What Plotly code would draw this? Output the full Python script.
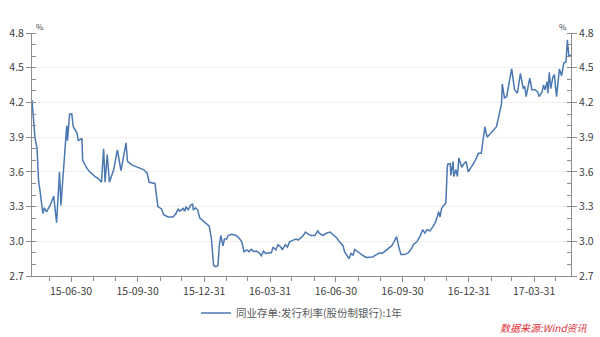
import plotly.graph_objects as go

dates = [
    "2015-05-07","2015-05-09","2015-05-11","2015-05-14","2015-05-16","2015-05-18","2015-05-21","2015-05-22",
    "2015-05-24","2015-05-27","2015-06-01","2015-06-06","2015-06-10","2015-06-14","2015-06-16","2015-06-19",
    "2015-06-24","2015-06-25","2015-06-28","2015-07-01","2015-07-03","2015-07-08","2015-07-10","2015-07-15",
    "2015-07-16","2015-07-22","2015-07-26","2015-08-02","2015-08-07","2015-08-11","2015-08-14","2015-08-16",
    "2015-08-19","2015-08-22","2015-08-28","2015-09-02","2015-09-07","2015-09-14","2015-09-16","2015-09-22",
    "2015-10-01","2015-10-08","2015-10-13","2015-10-16","2015-10-24","2015-10-26","2015-10-28","2015-11-02",
    "2015-11-05","2015-11-11","2015-11-18","2015-11-22","2015-11-25","2015-11-27","2015-12-02","2015-12-04",
    "2015-12-06","2015-12-09","2015-12-12","2015-12-15","2015-12-16","2015-12-19","2015-12-22","2015-12-25",
    "2016-01-01","2016-01-07","2016-01-10","2016-01-13","2016-01-16","2016-01-19","2016-01-21","2016-01-23",
    "2016-01-26","2016-01-28","2016-01-31","2016-02-02","2016-02-07","2016-02-13","2016-02-17","2016-02-21",
    "2016-02-24","2016-02-28","2016-03-02","2016-03-05","2016-03-09","2016-03-12","2016-03-16","2016-03-19",
    "2016-03-22","2016-03-25","2016-03-30","2016-04-02","2016-04-04","2016-04-08","2016-04-11","2016-04-15",
    "2016-04-17","2016-04-21","2016-04-24","2016-04-27","2016-05-02","2016-05-06","2016-05-09","2016-05-12",
    "2016-05-16","2016-05-19","2016-05-23","2016-05-27","2016-06-01","2016-06-05","2016-06-07","2016-06-12",
    "2016-06-17","2016-06-22","2016-06-26","2016-07-01","2016-07-05","2016-07-10","2016-07-12","2016-07-15",
    "2016-07-18","2016-07-21","2016-07-24","2016-07-26","2016-07-29","2016-08-02","2016-08-07","2016-08-11",
    "2016-08-16","2016-08-20","2016-08-25","2016-08-30","2016-09-02","2016-09-06","2016-09-10","2016-09-15",
    "2016-09-18","2016-09-22","2016-09-25","2016-09-28","2016-10-03","2016-10-08","2016-10-13","2016-10-15",
    "2016-10-20","2016-10-24","2016-10-28","2016-10-31","2016-11-03","2016-11-07","2016-11-11","2016-11-14",
    "2016-11-17","2016-11-19","2016-11-21","2016-11-23","2016-11-26","2016-11-29","2016-12-01","2016-12-02",
    "2016-12-05","2016-12-06","2016-12-09","2016-12-10","2016-12-13","2016-12-15","2016-12-17","2016-12-21",
    "2016-12-24","2016-12-27","2016-12-30","2017-01-03","2017-01-08","2017-01-13","2017-01-17","2017-01-22",
    "2017-01-25","2017-02-07","2017-02-14","2017-02-15","2017-02-18","2017-02-21","2017-02-28","2017-03-04",
    "2017-03-08","2017-03-12","2017-03-16","2017-03-18","2017-03-20","2017-03-25","2017-03-28","2017-04-01",
    "2017-04-05","2017-04-07","2017-04-11","2017-04-13","2017-04-15","2017-04-18","2017-04-19","2017-04-21",
    "2017-04-23","2017-04-26","2017-04-28","2017-05-01","2017-05-05","2017-05-08","2017-05-11","2017-05-14",
    "2017-05-16","2017-05-18","2017-05-21",
]

rates = [
    4.22,4.09,3.90,3.80,3.53,3.44,3.31,3.24,
    3.29,3.255,3.31,3.39,3.16,3.60,3.31,3.56,
    4.00,3.87,4.10,4.10,3.99,3.94,3.87,3.89,
    3.70,3.63,3.60,3.56,3.54,3.51,3.80,3.51,
    3.75,3.51,3.62,3.79,3.61,3.85,3.69,3.66,
    3.64,3.62,3.59,3.51,3.50,3.385,3.30,3.28,
    3.23,3.21,3.21,3.24,3.28,3.26,3.285,3.26,
    3.30,3.27,3.31,3.32,3.27,3.29,3.27,3.20,
    3.16,3.13,3.02,2.79,2.78,2.79,2.97,3.05,
    2.96,3.02,3.02,3.05,3.06,3.05,3.03,2.995,
    2.91,2.925,2.91,2.93,2.91,2.915,2.90,2.875,
    2.915,2.895,2.90,2.90,2.95,2.925,2.97,2.95,
    2.925,2.97,2.95,2.995,3.01,3.02,3.01,3.03,
    3.05,3.08,3.06,3.05,3.05,3.09,3.07,3.05,
    3.07,3.08,3.06,3.03,2.995,2.96,2.91,2.88,
    2.85,2.895,2.88,2.93,2.915,2.90,2.875,2.86,
    2.86,2.865,2.885,2.90,2.895,2.915,2.94,2.96,
    2.99,3.04,2.95,2.885,2.885,2.90,2.94,2.97,
    2.995,3.04,3.10,3.07,3.10,3.09,3.125,3.155,
    3.21,3.255,3.21,3.28,3.31,3.33,3.64,3.67,
    3.67,3.57,3.69,3.56,3.62,3.56,3.72,3.64,
    3.67,3.69,3.60,3.64,3.69,3.76,3.76,3.99,
    3.90,3.99,4.19,4.36,4.24,4.25,4.49,4.31,
    4.28,4.45,4.32,4.34,4.25,4.41,4.31,4.31,
    4.29,4.25,4.29,4.35,4.31,4.38,4.28,4.46,
    4.32,4.42,4.44,4.25,4.49,4.43,4.54,4.55,
    4.74,4.60,4.61,
]

series_name = "同业存单:发行利率(股份制银行):1年"
source_text = "数据来源:Wind资讯"

x_tick_vals = ["2015-06-30","2015-09-30","2015-12-31","2016-03-31","2016-06-30",
               "2016-09-30","2016-12-31","2017-03-31"]
x_tick_text = ["15-06-30","15-09-30","15-12-31","16-03-31","16-06-30",
               "16-09-30","16-12-31","17-03-31"]
x_minor_vals = ["2015-05-31","2015-07-31","2015-08-31","2015-10-31","2015-11-30",
                "2016-01-31","2016-02-29","2016-04-30","2016-05-31","2016-07-31",
                "2016-08-31","2016-10-31","2016-11-30","2017-01-31","2017-02-28",
                "2017-04-30"]
y_tick_vals = [2.7, 3.0, 3.3, 3.6, 3.9, 4.2, 4.5, 4.8]
y_tick_text = ["2.7", "3.0", "3.3", "3.6", "3.9", "4.2", "4.5", "4.8"]

FONT = "Noto Sans CJK SC, Microsoft YaHei, sans-serif"
AX = "#8c8c8c"
LINE = "#4a78b2"

fig = go.Figure()
fig.add_trace(go.Scatter(x=dates, y=rates, mode="lines", name=series_name,
                         line=dict(color=LINE, width=1.5), yaxis="y"))
fig.add_trace(go.Scatter(x=dates, y=rates, mode="lines", showlegend=False,
                         line=dict(color=LINE, width=1.5), opacity=0,
                         hoverinfo="skip", yaxis="y2"))

yax = dict(range=[2.7, 4.8], tickmode="array", tickvals=y_tick_vals, ticktext=y_tick_text,
           ticks="outside", ticklen=5, tickcolor=AX, showline=True, linecolor=AX, linewidth=1,
           showgrid=True, gridcolor="#f0f0f0", gridwidth=1, zeroline=False, automargin=False,
           tickfont=dict(family=FONT, size=10.5, color="#404040"),
           minor=dict(dtick=0.1, tick0=2.7, ticks="inside", ticklen=4, tickcolor=AX, showgrid=False))

fig.update_layout(
    width=600, height=337,
    margin=dict(l=32, r=29, t=33, b=61, autoexpand=False),
    paper_bgcolor="white", plot_bgcolor="white",
    font=dict(family=FONT, color="#404040"),
    xaxis=dict(type="date", range=["2015-05-07", "2017-05-21"],
               tickmode="array", tickvals=x_tick_vals, ticktext=x_tick_text,
               ticks="outside", ticklen=5, tickcolor=AX, showline=True, linecolor=AX,
               linewidth=1, showgrid=False, zeroline=False, automargin=False,
               tickfont=dict(family=FONT, size=10.5, color="#404040"),
               minor=dict(tickmode="array", tickvals=x_minor_vals, ticks="outside",
                          ticklen=4, tickcolor=AX, showgrid=False)),
    yaxis=yax,
    yaxis2=dict(yax, overlaying="y", side="right", showgrid=False),
    showlegend=True,
    legend=dict(orientation="h", x=0.5, xanchor="center", y=-0.152, yanchor="middle",
                font=dict(family=FONT, size=10.5, color="#595959"),
                bgcolor="rgba(0,0,0,0)"),
    annotations=[
        dict(text="%", xref="paper", yref="paper", x=0.004, y=1.025, xanchor="left",
             yanchor="middle", showarrow=False, font=dict(family=FONT, size=8, color="#404040")),
        dict(text="%", xref="paper", yref="paper", x=0.996, y=1.025, xanchor="right",
             yanchor="middle", showarrow=False, font=dict(family=FONT, size=8, color="#404040")),
        dict(text="<i>" + source_text + "</i>", xref="paper", yref="paper", x=1.035, y=-0.21,
             xanchor="right", yanchor="middle", showarrow=False,
             font=dict(family=FONT, size=10, color="#e0303a")),
    ],
)

fig.write_html("out.html")
